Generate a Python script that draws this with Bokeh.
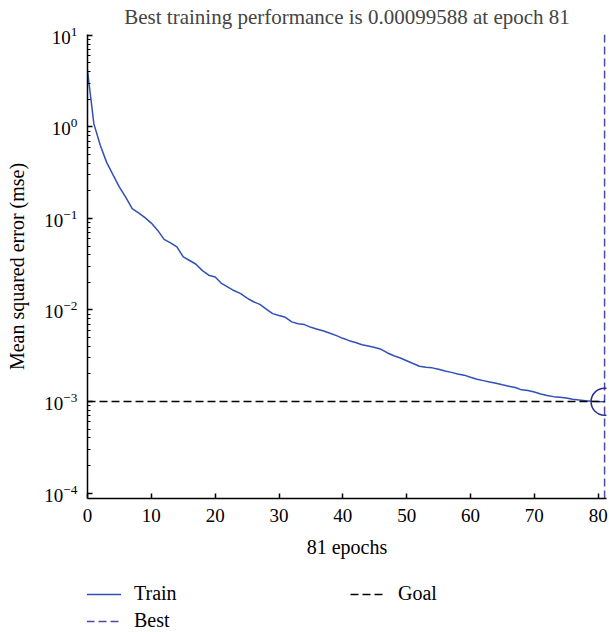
from bokeh.plotting import figure
from bokeh.models import Range1d, FixedTicker, Legend, LegendItem
from bokeh.layouts import column
from bokeh.embed import file_html
from bokeh.resources import INLINE

# ---- data ----
train_mse = [
    4.14, 1.08, 0.63, 0.41, 0.30, 0.22, 0.17, 0.128, 0.115, 0.102,
    0.089, 0.074, 0.059, 0.054, 0.049, 0.038, 0.0347, 0.0316, 0.0269, 0.024,
    0.0229, 0.0195, 0.0178, 0.0162, 0.0151, 0.0135, 0.0123, 0.0115, 0.0102, 0.00912,
    0.00871, 0.00832, 0.00741, 0.00706, 0.00692, 0.00646, 0.00617, 0.00589, 0.00556, 0.00525,
    0.0049, 0.00462, 0.00442, 0.00417, 0.00403, 0.00389, 0.00372, 0.00339, 0.00316, 0.00299,
    0.00279, 0.0026, 0.00243, 0.00236, 0.00233, 0.00225, 0.00215, 0.00208, 0.002, 0.00194,
    0.00184, 0.00175, 0.00169, 0.00163, 0.00158, 0.00152, 0.00147, 0.00142, 0.00134, 0.00132,
    0.00127, 0.00121, 0.00116, 0.00113, 0.00111, 0.00109, 0.00106, 0.00104, 0.00102, 0.001005,
    0.001, 0.00099588,
]
epochs = list(range(len(train_mse)))
goal = 0.001
best_epoch = 81
best_perf = 0.00099588
x_ticks = [0, 10, 20, 30, 40, 50, 60, 70, 80]
y_major = [1e-4, 1e-3, 1e-2, 1e-1, 1e0, 1e1]
x_lo, x_hi = 0, 81.3
y_lo, y_hi = 10 ** -4.06, 10 ** 1.01

FONT = "Liberation Serif"
TRAIN_C = "#3050b8"
BEST_C = "#4a4aa4"
GOAL_C = "black"

p = figure(width=609, height=565, output_backend="svg", toolbar_location=None,
           y_axis_type="log", x_range=Range1d(x_lo, x_hi), y_range=Range1d(y_lo, y_hi),
           min_border_left=87, min_border_right=3, min_border_top=34, min_border_bottom=67,
           title="Best training performance is 0.00099588 at epoch 81")
p.outline_line_color = None
p.grid.visible = False
p.background_fill_color = "white"

p.title.text_font = FONT
p.title.text_font_size = "21px"
p.title.text_font_style = "normal"
p.title.align = "center"
p.title.vertical_align = "top"
p.title.standoff = 8

minor = [k * d for d in y_major[:-1] for k in range(2, 10)]
p.yaxis.ticker = FixedTicker(ticks=y_major, minor_ticks=minor)
p.xaxis.ticker = FixedTicker(ticks=x_ticks, minor_ticks=[])

for ax in (p.xaxis, p.yaxis):
    ax.axis_line_width = 1.5
    ax.axis_line_color = "black"
    ax.major_tick_in = 5
    ax.major_tick_out = 0
    ax.minor_tick_in = 3
    ax.minor_tick_out = 0
    ax.major_tick_line_width = 1.5
    ax.minor_tick_line_width = 1.2
    ax.major_label_text_font = FONT
    ax.major_label_text_font_size = "19px"
    ax.major_label_text_color = "black"
    ax.axis_label_text_font = FONT
    ax.axis_label_text_font_size = "20px"
    ax.axis_label_text_font_style = "normal"
    ax.axis_label_text_color = "black"

p.xaxis.axis_label = "81 epochs"
p.yaxis.axis_label = "Mean squared error (mse)"
p.xaxis.major_label_standoff = 10
p.yaxis.major_label_standoff = 10
p.xaxis.axis_label_standoff = 11
p.yaxis.axis_label_standoff = 13

p.line(epochs, train_mse, line_color=TRAIN_C, line_width=1.5)
p.line([best_epoch, best_epoch], [y_lo, y_hi], line_color=BEST_C,
       line_width=1.5, line_dash="8 4")
p.line([0, best_epoch], [goal, goal], line_color=GOAL_C,
       line_width=1.5, line_dash="8 4")
p.scatter([best_epoch], [best_perf], marker="circle", size=27, fill_color=None,
          line_color="#2b2b9b", line_width=1.5)

# ---- legend strip below the axes ----
q = figure(width=609, height=67, output_backend="svg", toolbar_location=None,
           x_range=Range1d(0, 1), y_range=Range1d(0, 1),
           min_border_left=0, min_border_right=0, min_border_top=0, min_border_bottom=0)
q.axis.visible = False
q.grid.visible = False
q.outline_line_color = None
nan = float("nan")
l_train = q.line([nan], [nan], line_color=TRAIN_C, line_width=1.5)
l_best = q.line([nan], [nan], line_color=BEST_C, line_width=1.5, line_dash="8 4")
l_goal = q.line([nan], [nan], line_color=GOAL_C, line_width=1.5, line_dash="8 4")

leg1 = Legend(items=[LegendItem(label="Train", renderers=[l_train]),
                     LegendItem(label="Best", renderers=[l_best])],
              location=(-1, 0), orientation="vertical")
leg2 = Legend(items=[LegendItem(label="Goal", renderers=[l_goal])],
              location=(263, 27), orientation="vertical")
for lg in (leg1, leg2):
    lg.padding = 0
    lg.margin = 0
    lg.spacing = 4
    lg.glyph_width = 35
    lg.glyph_height = 20
    lg.label_standoff = 13
    lg.label_text_font = FONT
    lg.label_text_font_size = "20px"
    lg.label_text_color = "black"
    lg.background_fill_alpha = 0
    lg.border_line_alpha = 0
    q.add_layout(lg, "center")

layout = column(p, q, spacing=0)
open("out.html", "w").write(file_html(layout, INLINE))
